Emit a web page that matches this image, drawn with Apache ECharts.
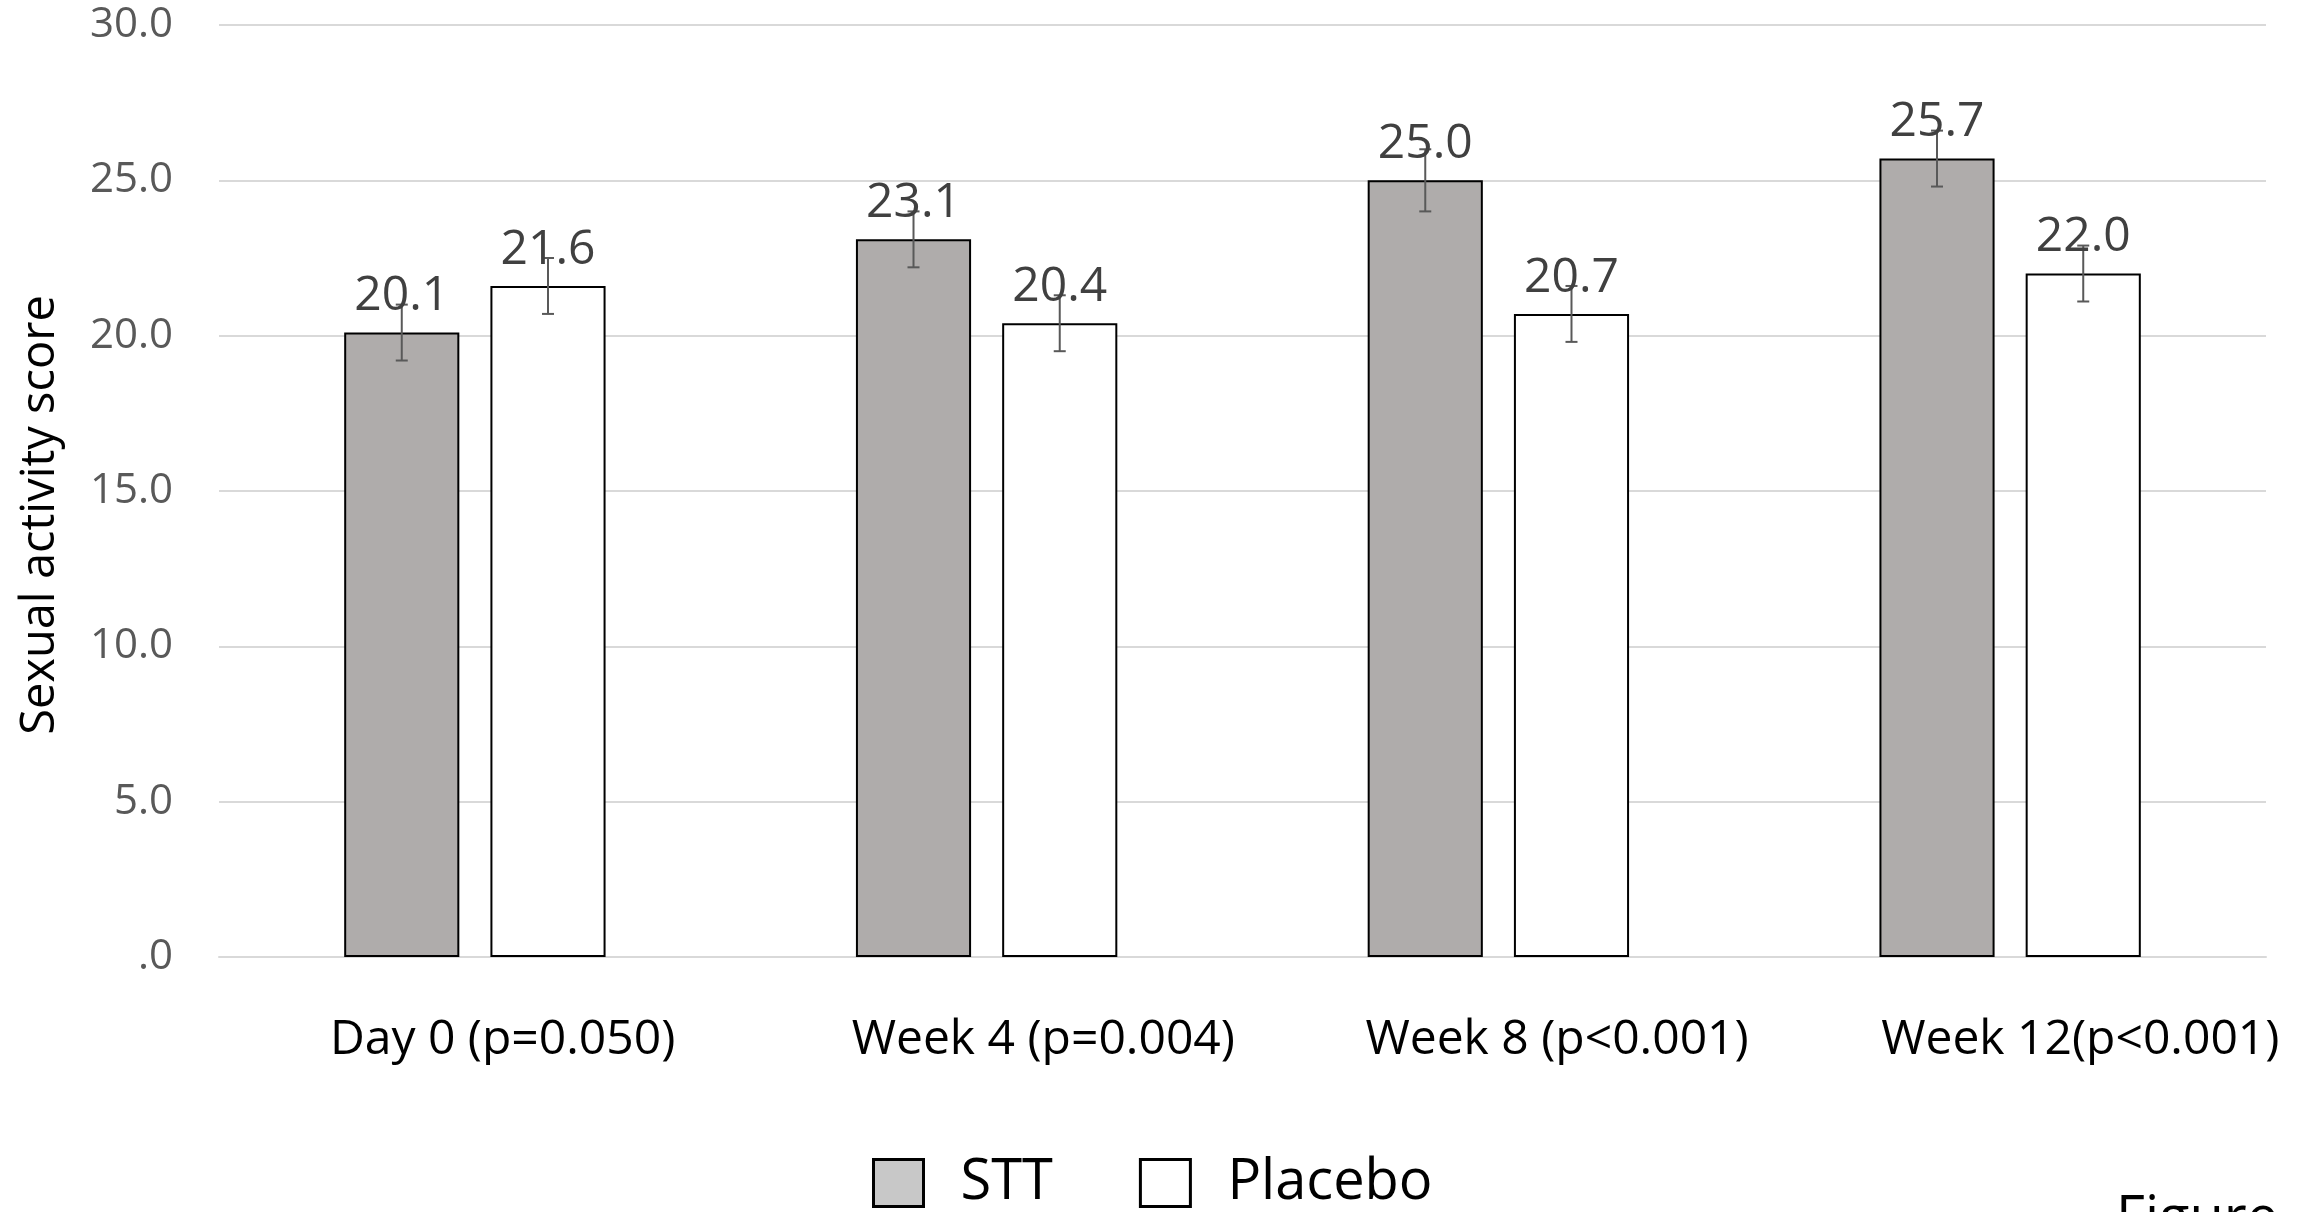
<!DOCTYPE html>
<html>
<head>
<meta charset="utf-8">
<script src="https://cdn.jsdelivr.net/npm/echarts@6/dist/echarts.min.js"></script>
<style>
  html, body { margin: 0; padding: 0; background: #ffffff; }
  #chart { width: 2305px; height: 1212px; }
</style>
</head>
<body>
<div id="chart"></div>
<script>
const categories = ['Day 0 (p=0.050)', 'Week 4 (p=0.004)', 'Week 8 (p<0.001)', 'Week 12(p<0.001)'];
const seriesNames = ['STT', 'Placebo'];
const sttValues = [20.1, 23.1, 25.0, 25.7];
const placeboValues = [21.6, 20.4, 20.7, 22.0];
const sttErrors = [0.9, 0.9, 1.0, 0.9];
const placeboErrors = [0.9, 0.9, 0.9, 0.9];
const yMin = 0, yMax = 30, yStep = 5;

const FONT = '"Open Sans", "Noto Sans", sans-serif';
const BAR_W = 0.225;   // fraction of category band
const BAR_GAP = 0.27;  // fraction of bar width
const LABEL_BOX = [290, 270, 266, 258]; // x-label box widths (style)

function errSeries(name, values, errors, sign) {
  return {
    name: name + ' error',
    type: 'custom',
    z: 5,
    silent: true,
    encode: { x: 0, y: 1 },
    data: values.map((v, i) => [i, v, errors[i]]),
    renderItem: function (params, api) {
      const idx = api.value(0), v = api.value(1), e = api.value(2);
      const band = api.size([1, 0])[0];
      const off = sign * band * BAR_W * (1 + BAR_GAP) / 2;
      const p = api.coord([idx, v]);
      const x = p[0] + off;
      const yt = api.coord([idx, v + e])[1];
      const yb = api.coord([idx, v - e])[1];
      const ls = { stroke: '#595959', lineWidth: 2 };
      return {
        type: 'group',
        children: [
          { type: 'line', shape: { x1: x, y1: yt, x2: x, y2: yb }, style: ls },
          { type: 'line', shape: { x1: x - 6, y1: yt, x2: x + 6, y2: yt }, style: ls },
          { type: 'line', shape: { x1: x - 6, y1: yb, x2: x + 6, y2: yb }, style: ls },
          { type: 'text', z2: 10, style: {
              x: x, y: p[1] - 12, text: v.toFixed(1), align: 'center', verticalAlign: 'bottom',
              fill: '#404040', font: '48px ' + FONT } }
        ]
      };
    }
  };
}

const rich = {};
LABEL_BOX.forEach((w, i) => {
  rich['a' + i] = { width: w, align: 'left', fontFamily: FONT, fontSize: 48, color: '#000000' };
});

const chart = echarts.init(document.getElementById('chart'), null, { renderer: 'canvas' });
chart.setOption({
  animation: false,
  backgroundColor: '#ffffff',
  title: {
    text: 'Figure', left: 2116, top: 1192, padding: 0,
    textStyle: { fontFamily: FONT, fontSize: 56, fontWeight: 'normal', color: '#000000' }
  },
  grid: { left: 219, right: 39, top: 25, bottom: 255, containLabel: false },
  legend: {
    left: 867, top: 1150,
    itemWidth: 50, itemHeight: 47, itemGap: 86,
    textStyle: { fontFamily: FONT, fontSize: 56, color: '#000000', padding: [0, 0, 0, 32] },
    data: [
      { name: 'STT', icon: 'rect', itemStyle: { color: '#c8c8c8', borderColor: '#000000', borderWidth: 3 } },
      { name: 'Placebo', icon: 'rect', itemStyle: { color: '#ffffff', borderColor: '#000000', borderWidth: 3 } }
    ]
  },
  xAxis: {
    type: 'category',
    data: categories,
    axisLine: { show: true, lineStyle: { color: '#d9d9d9', width: 2 } },
    axisTick: { show: false },
    axisLabel: {
      interval: 0, margin: 59,
      formatter: (v, i) => '{a' + i + '|' + v + '}',
      rich: rich
    }
  },
  yAxis: {
    type: 'value',
    min: yMin, max: yMax, interval: yStep,
    name: 'Sexual activity score',
    nameLocation: 'middle', nameRotate: 90, nameGap: 155,
    nameTextStyle: { fontFamily: FONT, fontSize: 47, color: '#000000', padding: [0, 48, 0, 0] },
    axisLine: { show: false },
    axisTick: { show: false },
    axisLabel: {
      margin: 46, fontFamily: FONT, fontSize: 42, color: '#595959',
      formatter: v => v === 0 ? '.0' : v.toFixed(1)
    },
    splitLine: { lineStyle: { color: '#d9d9d9', width: 2 } }
  },
  series: [
    {
      name: seriesNames[0], type: 'bar', data: sttValues,
      barWidth: (BAR_W * 100) + '%', barGap: (BAR_GAP * 100) + '%',
      itemStyle: { color: '#afacab', borderColor: '#000000', borderWidth: 2 },
      z: 2
    },
    {
      name: seriesNames[1], type: 'bar', data: placeboValues,
      barWidth: (BAR_W * 100) + '%', barGap: (BAR_GAP * 100) + '%',
      itemStyle: { color: '#ffffff', borderColor: '#000000', borderWidth: 2 },
      z: 2
    },
    errSeries(seriesNames[0], sttValues, sttErrors, -1),
    errSeries(seriesNames[1], placeboValues, placeboErrors, 1)
  ]
});
</script>
</body>
</html>
